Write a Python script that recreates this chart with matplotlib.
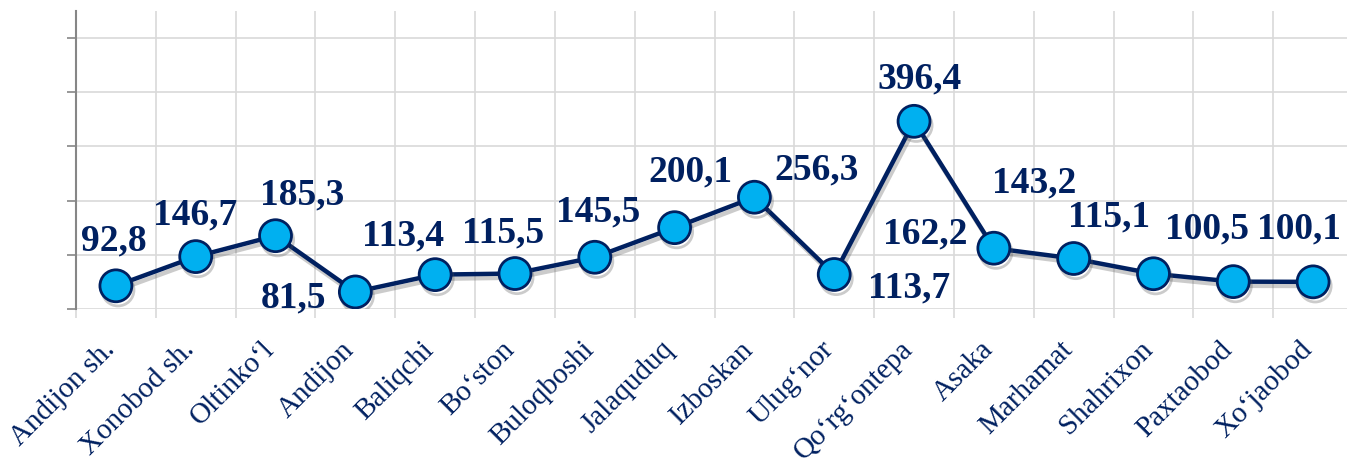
import matplotlib
matplotlib.use('Agg')
import matplotlib.pyplot as plt
import matplotlib.patheffects as pe
from matplotlib.transforms import ScaledTranslation
import numpy as np

districts = ["Andijon sh.", "Xonobod sh.", "Oltinko\u02bbl", "Andijon", "Baliqchi",
             "Bo\u02bbston", "Buloqboshi", "Jalaquduq", "Izboskan", "Ulug\u02bbnor",
             "Qo\u02bbrg\u02bbontepa", "Asaka", "Marhamat", "Shahrixon", "Paxtaobod",
             "Xo\u02bbjaobod"]
values = [92.8, 146.7, 185.3, 81.5, 113.4, 115.5, 145.5, 200.1, 256.3, 113.7,
          396.4, 162.2, 143.2, 115.1, 100.5, 100.1]

# label offsets in pixels (dx, dy) from each marker, placed by hand as in the source
label_offsets = [(-2, 49), (-1, 46), (27, 45), (-62, -2), (-32, 43), (-12, 45),
                 (3, 49), (16, 60), (62, 31), (75, -9), (6, 46), (-69, 18),
                 (-39, 80), (-44, 61), (-26, 57), (-14, 57)]

NAVY = '#002060'
LIGHT_BLUE = '#00B0F0'
GRID = '#d9d9d9'

plt.rcParams['font.family'] = ['Liberation Serif', 'DejaVu Serif']

W, H = 1347, 465
fig = plt.figure(figsize=(W / 100, H / 100), dpi=100)
ax = fig.add_axes([76 / W, (H - 309) / H, 1277 / W, 298 / H])

x = np.arange(len(districts))
ax.plot(x, values, color=NAVY, lw=3.2, marker='o', markersize=23,
        markerfacecolor=LIGHT_BLUE, markeredgecolor=NAVY, markeredgewidth=2,
        zorder=3,
        path_effects=[pe.SimpleLineShadow(offset=(1.5, -3), shadow_color='#555555', alpha=0.3),
                      pe.Normal()])

for xi, v, (dx, dy) in zip(x, values, label_offsets):
    ax.annotate(f"{v:.1f}".replace('.', ','), (xi, v), xytext=(dx, dy),
                textcoords='offset pixels', ha='center', va='center_baseline',
                fontsize=27, fontweight='bold', color=NAVY, zorder=4)

ax.set_xlim(-0.5, len(districts) - 0.5)
ax.set_ylim(50, 600)
ax.set_yticks(np.arange(50, 551, 100))
ax.set_yticklabels([])
ax.set_xticks(x)
ax.set_xticks(np.arange(-0.5, len(districts), 1), minor=True)
ax.set_xticklabels(districts, rotation=45, ha='right', va='baseline',
                   rotation_mode='anchor', fontsize=21, color=NAVY)
shift = ScaledTranslation(5 / 100, 0, fig.dpi_scale_trans)
for lab in ax.get_xticklabels():
    lab.set_transform(lab.get_transform() + shift)

ax.tick_params(axis='x', which='major', length=0, pad=30)
ax.tick_params(axis='x', which='minor', length=6.5, width=1.2, color=GRID)
ax.tick_params(axis='y', which='major', length=6.5, width=1.2, color='#868686', direction='out')

ax.grid(axis='y', which='major', color=GRID, lw=1.2)
ax.grid(axis='x', which='minor', color=GRID, lw=1.2)
ax.set_axisbelow(True)

for side in ['top', 'right', 'bottom']:
    ax.spines[side].set_visible(False)
ax.spines['left'].set_color('#868686')
ax.spines['left'].set_linewidth(1.5)

fig.savefig('out.png', dpi=100)
